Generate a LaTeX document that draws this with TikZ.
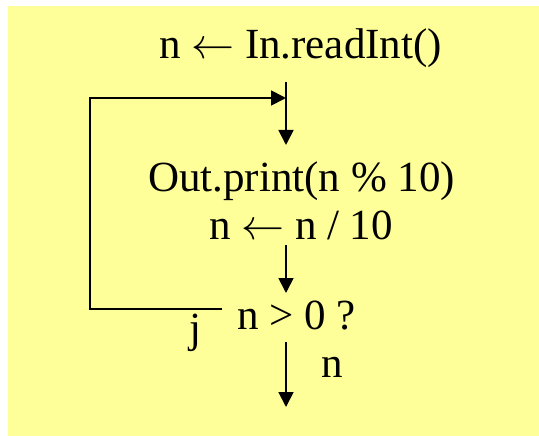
\documentclass[tikz,border=0pt]{standalone}
\usepackage{fontspec}
\setmainfont{Liberation Serif}
\usetikzlibrary{arrows.meta}
\definecolor{bg}{HTML}{FFFF99}
\newcommand{\larr}{\scalebox{4.3}{\fontsize{10}{12}\selectfont$\leftarrow$}}
\begin{document}
\begin{tikzpicture}[x=1pt,y=-1pt,
  lbl/.style={anchor=base,inner sep=0pt,font=\fontsize{43}{50}\selectfont},
  conn/.style={line width=1.8pt},
  arr/.style={conn,-{Triangle[length=15pt,width=15pt]}}]
\useasboundingbox (0,0) rectangle (539,436);
\fill[white] (0,0) rectangle (539,436);
\fill[bg] (8,6) rectangle (539,436);
\node[lbl] (read) at (300.5,59) {n \larr{} In.readInt()};
\node[lbl] (print) at (301.5,191) {Out.print(n \% 10)};
\node[lbl] (div) at (301,239) {n \larr{} n / 10};
\node[lbl] (test) at (296.5,329) {n > 0 ?};
\node[lbl] (yeslbl) at (195,342) {j};
\node[lbl] (nolbl) at (332.5,377) {n};
\coordinate (a1s) at (286,82);
\coordinate (a1e) at (286,145);
\coordinate (join) at (286,98);
\coordinate (a2s) at (286,245);
\coordinate (a2e) at (286,293);
\coordinate (a3s) at (286,342);
\coordinate (a3e) at (286,407);
\coordinate (loops) at (222,309);
\coordinate (loopbl) at (90,309);
\coordinate (looptl) at (90,98);
\draw[arr] (a1s) -- (a1e);
\draw[arr] (a2s) -- (a2e);
\draw[arr] (a3s) -- (a3e);
\draw[arr] (loops) -- (loopbl) -- (looptl) -- (join);
\end{tikzpicture}
\end{document}
